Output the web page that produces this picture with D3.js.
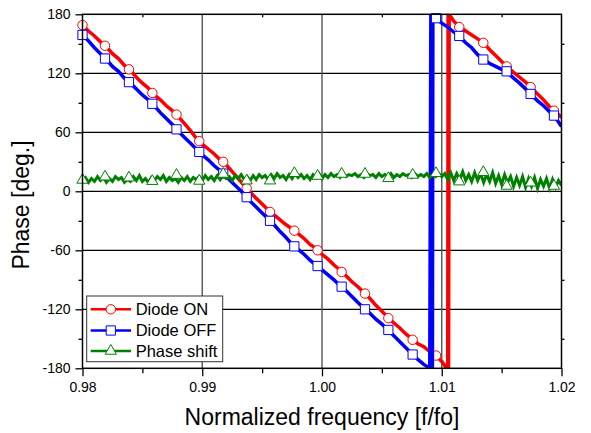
<!DOCTYPE html>
<html>
<head>
<meta charset="utf-8">
<script src="https://cdn.jsdelivr.net/npm/d3@7"></script>
<style>
html,body{margin:0;padding:0;background:#fff;}
svg{display:block;font-family:Arial,"Liberation Sans",sans-serif;}
</style>
</head>
<body>
<svg id="chart" width="591" height="433"></svg>
<script>
// ---------------- data ----------------
const xTicks = [0.98, 0.99, 1.00, 1.01, 1.02];
const xTickLabels = ["0.98", "0.99", "1.00", "1.01", "1.02"];
const xMinorTicks = [0.985, 0.995, 1.005, 1.015];
const yTicks = [-180, -120, -60, 0, 60, 120, 180];
const yTickLabels = ["-180", "-120", "-60", "0", "60", "120", "180"];
const yMinorTicks = [-150, -90, -30, 30, 90, 150];
const seriesNames = ["Diode ON", "Diode OFF", "Phase shift"];
const xTitle = "Normalized frequency [f/fo]";
const yTitle = "Phase [deg.]";

// sampled frequency grid (start, step) for the measured traces
const freqStart = 0.98;
const phaseStep = 0.0005;   // Diode ON / Diode OFF samples
const shiftStep = 0.00025;  // Phase shift samples

const onPhase = [169,163,158,152,147,140,135,128,123,116, 110,105,98,93,87,82,76,69,62,54,
  48,43,38,32,27,20,13,6,-1,-7, -13,-19,-24,-29,-34,-38,-43,-48,-54,-58,
  -64,-69,-75,-80,-86,-92,-97,-103,-109,-116, -122,-128,-134,-139,-145,-150,-155,-158,-163,-167,
  -173,-180,173,167,163,159,155,151,144,138, 132,126,121,116,111,105,99,93,86,81, 75];
const onWrapFreq = [1.01035, 1.01053, 1.01057, 1.01062];
const onWrapPhase = [-179, 180, -180, 180];

const offPhase = [159,153,146,140,134,127,122,115,110,104, 98,93,87,80,74,68,61,55,49,43,
  37,32,26,21,15,9,3,-3,-10,-16, -22,-28,-34,-41,-47,-54,-59,-64,-70,-75,
  -80,-85,-90,-96,-101,-107,-113,-119,-124,-130, -135,-141,-147,-153,-159,-165,-171,-176,-180,176,
  171,167,162,157,151,146,139,134,130,127, 124,121,115,110,104,98,92,87,81,75, 66];
const offWrapFreq = [1.00909, 1.00913, 1.00918, 1.00922, 1.00926];
const offWrapPhase = [180, -180, 180, -180, 180];

const shiftPhase = [11,14,9,13,10,15,11,14,9,13, 10,15,12,14,9,12,10,15,11,16,
  10,13,9,14,11,15,12,16,10,14, 11,13,9,14,11,15,10,14,12,15, 11,
  16,12,15,11,16,12,17,13,15,11, 16,13,17,12,15,11,16,12,17,14,
  16,12,17,13,18,14,16,12,17,13, 18,14,17,13,16,12,17,14,18,13,
  17,14,18,15,17,14,18,15,17,16, 18,15,17,14,18,16,17,14,18,15,
  17,15,18,14,17,15,18,16,17,14, 18,15,17,15,18,14,17,15,18,15,
  18,12,19,11,18,12,20,11,17,10, 19,11,18,9,17,10,19,8,16,7,
  17,9,15,5,14,6,15,4,13,5, 14,3,12,5,13,3,12,4,11,6];

const markerFreq = [0.98, 0.98188, 0.98388, 0.98583, 0.98785, 0.98975, 0.99175, 0.99371, 0.99566, 0.99769,
  0.99963, 1.00164, 1.00359, 1.00554, 1.00757, 1.00952, 1.01146, 1.01347, 1.01542, 1.01742, 1.01937];
const onMarkers = [169,148,124,100,78,51,30,3,-21,-40,-60,-82,-104,-129,-151,-167,167,151,127,106,82];
const offMarkers = [159,135,111,89,63,40,18,-6,-30,-56,-76,-97,-120,-141,-166,176,158,134,122,99,77];
const shiftMarkers = [11.5,14.8,13.8,10.3,16.5,10.5,17.6,10.8,10.8,18.3,15.5,17.6,17.6,13.2,16.6,18.3,9.8,19.3,5.4,8.7,5.4];

// ---------------- build series ----------------
function gridSeries(values, step) {
  return values.map((v, i) => ({f: freqStart + i * step, v: v}));
}
function withWrap(base, wf, wv) {
  const extra = wf.map((f, i) => ({f: f, v: wv[i]}));
  return base.concat(extra).sort((a, b) => a.f - b.f);
}
const onSeries = withWrap(gridSeries(onPhase, phaseStep), onWrapFreq, onWrapPhase);
const offSeries = withWrap(gridSeries(offPhase, phaseStep), offWrapFreq, offWrapPhase);
const shiftSeries = gridSeries(shiftPhase, shiftStep);

// ---------------- chart ----------------
const svg = d3.select("#chart");
const W = 591, H = 433;
const plot = {left: 82.5, right: 561.5, top: 14.3, bottom: 368.3};

const x = d3.scaleLinear().domain([0.98, 1.02]).range([plot.left, plot.right]);
const y = d3.scaleLinear().domain([-180, 180]).range([plot.bottom, plot.top]);

svg.append("rect").attr("width", W).attr("height", H).attr("fill", "#fff");

// grid
const grid = svg.append("g");
grid.selectAll("line.h").data(yTicks.slice(1, -1)).join("line")
  .attr("x1", plot.left).attr("x2", plot.right)
  .attr("y1", d => y(d)).attr("y2", d => y(d))
  .attr("stroke", "#000").attr("stroke-width", 1.2);
grid.selectAll("line.v").data(xTicks.slice(1, -1)).join("line")
  .attr("y1", plot.top).attr("y2", plot.bottom)
  .attr("x1", d => x(d)).attr("x2", d => x(d))
  .attr("stroke", "#555").attr("stroke-width", 1.4);

// axes
function styleAxis(g) {
  g.select(".domain").remove();
  g.selectAll(".tick line").attr("stroke", "#000").attr("stroke-width", 1.3);
  g.selectAll(".tick text").attr("fill", "#000").attr("font-size", 14)
    .attr("font-family", "Arial, 'Liberation Sans', sans-serif");
}
svg.append("g").attr("transform", `translate(0,${plot.bottom})`)
  .call(d3.axisBottom(x).tickValues(xTicks).tickFormat((d, i) => xTickLabels[i]).tickSize(8).tickPadding(6))
  .call(styleAxis);
svg.append("g").attr("transform", `translate(0,${plot.bottom})`)
  .call(d3.axisBottom(x).tickValues(xMinorTicks).tickFormat("").tickSize(5))
  .call(styleAxis);
svg.append("g").attr("transform", `translate(${plot.left},0)`)
  .call(d3.axisLeft(y).tickValues(yTicks).tickFormat((d, i) => yTickLabels[i]).tickSize(7).tickPadding(5))
  .call(styleAxis);
svg.append("g").attr("transform", `translate(${plot.left},0)`)
  .call(d3.axisLeft(y).tickValues(yMinorTicks).tickFormat("").tickSize(4))
  .call(styleAxis);
svg.append("g").attr("transform", `translate(0,${plot.top})`)
  .call(d3.axisBottom(x).tickValues(xMinorTicks).tickFormat("").tickSize(3))
  .call(styleAxis);
svg.append("g").attr("transform", `translate(${plot.right},0)`)
  .call(d3.axisRight(y).tickValues(yMinorTicks).tickFormat("").tickSize(3))
  .call(styleAxis);

// clip
svg.append("defs").append("clipPath").attr("id", "clip")
  .append("rect").attr("x", plot.left).attr("y", plot.top)
  .attr("width", plot.right - plot.left).attr("height", plot.bottom - plot.top);

const line = d3.line().x(d => x(d.f)).y(d => y(d.v));

const red = "#ff0000", blue = "#0000ff", green = "#008000";
const circleSym = d3.symbol().type(d3.symbolCircle).size(70);
const squareSym = d3.symbol().type(d3.symbolSquare).size(85);
const triSym = d3.symbol().type(d3.symbolTriangle).size(55);

function drawSeries(series, color, markers, sym, width) {
  svg.append("path").datum(series).attr("clip-path", "url(#clip)")
    .attr("d", line).attr("fill", "none").attr("stroke", color)
    .attr("stroke-width", width).attr("stroke-linejoin", "miter");
  svg.append("g").selectAll("path").data(markers).join("path")
    .attr("transform", (d, i) => `translate(${x(markerFreq[i])},${y(d)})`)
    .attr("d", sym).attr("fill", "#fff").attr("stroke", color).attr("stroke-width", 1);
}
drawSeries(onSeries, red, onMarkers, circleSym, 3.5);
drawSeries(offSeries, blue, offMarkers, squareSym, 3.5);
drawSeries(shiftSeries, green, shiftMarkers, triSym, 3);

// frame
svg.append("rect").attr("x", plot.left).attr("y", plot.top)
  .attr("width", plot.right - plot.left).attr("height", plot.bottom - plot.top)
  .attr("fill", "none").attr("stroke", "#000").attr("stroke-width", 1.5);

// axis titles
svg.append("text").attr("x", (plot.left + plot.right) / 2).attr("y", 425)
  .attr("text-anchor", "middle").attr("font-size", 23).attr("fill", "#000").text(xTitle);
svg.append("text").attr("transform", `translate(28.5,205) rotate(-90)`)
  .attr("text-anchor", "middle").attr("font-size", 23).attr("fill", "#000").text(yTitle);

// legend
const legend = svg.append("g");
legend.append("rect").attr("x", 86.7).attr("y", 296).attr("width", 136).attr("height", 65.7)
  .attr("fill", "#fff").attr("stroke", "#333").attr("stroke-width", 1);
const legColors = [red, blue, green];
const legSyms = [circleSym, squareSym, triSym];
const legY = [309.3, 330.5, 351];
seriesNames.forEach((name, i) => {
  legend.append("line").attr("x1", 90.7).attr("x2", 131).attr("y1", legY[i]).attr("y2", legY[i])
    .attr("stroke", legColors[i]).attr("stroke-width", 2.5);
  legend.append("path").attr("transform", `translate(110.8,${legY[i]})`).attr("d", legSyms[i])
    .attr("fill", "#fff").attr("stroke", legColors[i]).attr("stroke-width", 1);
  legend.append("text").attr("x", 135.7).attr("y", legY[i]).attr("dy", "0.36em")
    .attr("font-size", 16.5).attr("fill", "#000").text(name);
});
</script>
</body>
</html>
